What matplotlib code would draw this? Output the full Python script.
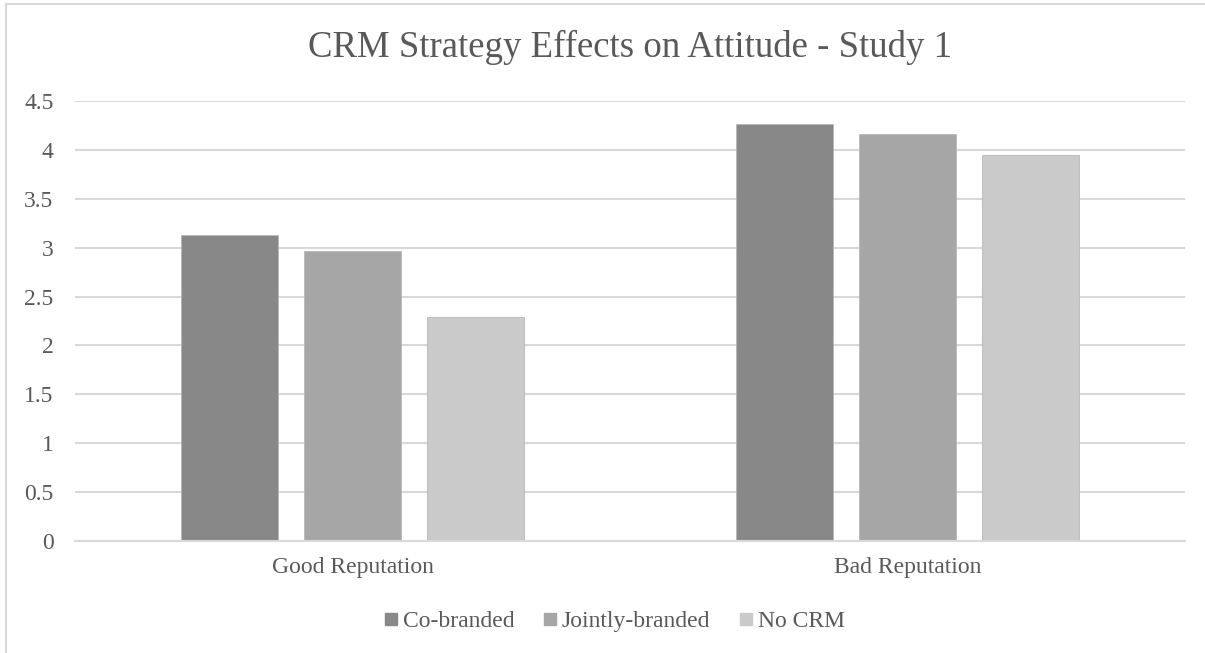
import numpy as np
import matplotlib
matplotlib.use("Agg")
import matplotlib.pyplot as plt
from matplotlib.lines import Line2D

# data
groups = ["Good Reputation", "Bad Reputation"]
series = ["Co-branded", "Jointly-branded", "No CRM"]
co_branded = [3.13, 4.26]
jointly_branded = [2.97, 4.16]
no_crm = [2.29, 3.945]
yticks = [0, 0.5, 1, 1.5, 2, 2.5, 3, 3.5, 4, 4.5]

colors = ["#888888", "#a6a6a6", "#cacaca"]
txt = "#595959"
grid = "#d9d9d9"

plt.rcParams['font.family'] = ['Liberation Serif', 'DejaVu Serif']

fig = plt.figure(figsize=(12.05, 6.53), dpi=100)
W, H = 1205, 653
ax = fig.add_axes([75 / W, 1 - 541.3 / H, 1110 / W, (541.3 - 100.7) / H])

x = np.arange(len(groups))
width = 97 / 555
step = 123 / 555
for i, (vals, c) in enumerate(zip([co_branded, jointly_branded, no_crm], colors)):
    ax.bar(x + (i - 1) * step, vals, width, color=c, edgecolor="#b8b8b8",
           linewidth=0.6, zorder=3, label=series[i])

ax.set_xlim(-0.5, 1.5)
ax.set_ylim(0, 4.5)
ax.set_yticks(yticks)
ax.set_yticklabels([f"{v:g}" for v in yticks])
ax.set_xticks(x)
ax.set_xticklabels(groups)
ax.tick_params(axis="both", length=0, labelsize=17, colors=txt)
ax.tick_params(axis="y", pad=15.5)
ax.tick_params(axis="x", pad=11)
for s in ["top", "right", "left"]:
    ax.spines[s].set_visible(False)
ax.spines["bottom"].set_color(grid)
ax.spines["bottom"].set_linewidth(1.5)
ax.spines["bottom"].set_zorder(4)
ax.yaxis.grid(True, color=grid, linewidth=1.5, zorder=0)
ax.set_axisbelow(True)

fig.text(630 / W, 1 - 47 / H, "CRM Strategy Effects on Attitude - Study 1",
         ha="center", va="center", fontsize=26.5, color=txt)

handles = [Line2D([], [], linestyle="none", marker="s", markersize=8.6,
                  markerfacecolor=c, markeredgecolor=c) for c in colors]
fig.legend(handles, series, loc="center", bbox_to_anchor=(615 / W, 1 - 621 / H),
           ncol=3, frameon=False, fontsize=17, labelcolor=txt,
           handlelength=0.5, handletextpad=0.25, columnspacing=1.25,
           borderpad=0, borderaxespad=0)

# outer chart frame (left and top edges visible)
fig.add_artist(Line2D([6 / W, 6 / W], [0, 1 - 4 / H], color=grid, linewidth=1.5))
fig.add_artist(Line2D([6 / W, 1], [1 - 4 / H, 1 - 4 / H], color=grid, linewidth=1.5))

fig.savefig("out.png", dpi=100)
